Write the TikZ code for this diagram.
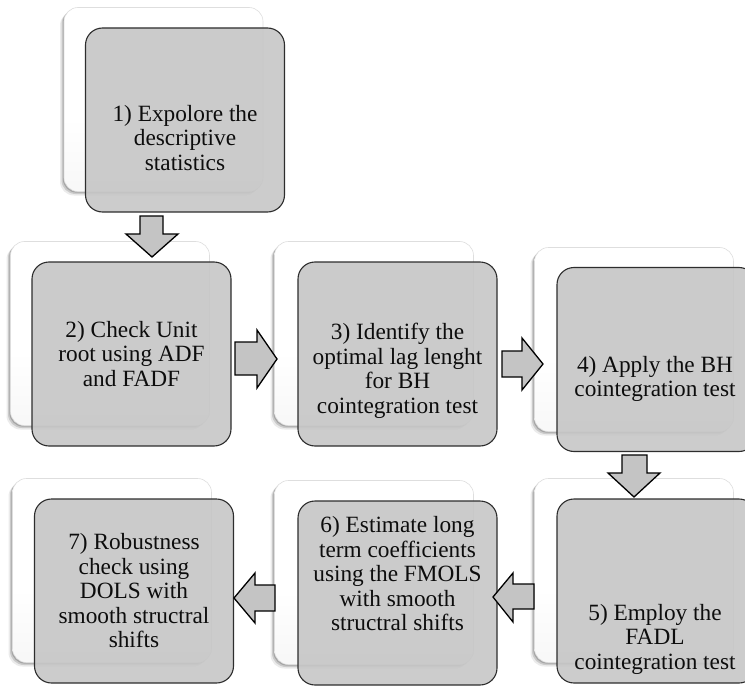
\documentclass[tikz,border=0pt]{standalone}
\usepackage{fontspec}
\setmainfont{Liberation Serif}
\usetikzlibrary{shadows}
\definecolor{frontgray}{RGB}{198,198,198}
\definecolor{arrowgray}{RGB}{196,196,196}
\definecolor{edgegray}{RGB}{45,45,45}
\pgfdeclareverticalshading{cardshade}{100bp}{color(0bp)=(black!11); color(25bp)=(black!3); color(45bp)=(white); color(100bp)=(white)}
\tikzset{
  backcard/.style={draw=black!13, line width=0.6pt, rounded corners=14pt,
    minimum width=199pt, minimum height=184pt, inner sep=0pt,
    shade, shading=cardshade,
    drop shadow={shadow xshift=-1.2pt, shadow yshift=-1.2pt, opacity=0.18, fill=black},
    drop shadow={shadow xshift=-2.5pt, shadow yshift=-2.5pt, opacity=0.14, fill=black},
    drop shadow={shadow xshift=-4pt, shadow yshift=-4pt, opacity=0.08, fill=black}},
  frontcard/.style={draw=edgegray, line width=1.1pt, rounded corners=17pt,
    minimum width=199pt, minimum height=184pt, inner sep=0pt,
    fill=frontgray, fill opacity=0.9},
  steptext/.style={align=center, font=\fontsize{23.3}{24.5}\selectfont, text=black!95, inner sep=0pt},
  blockarrow/.style={draw=black, line width=1.3pt, fill=arrowgray, line join=miter}
}
\begin{document}
\begin{tikzpicture}[x=1pt,y=-1pt]
\useasboundingbox (0,0) rectangle (745,693);
\clip (0,0) rectangle (745,693);
% box 1
\node[backcard] (b1) at (163.5,99.5) {};
\node[frontcard] (f1) at (185,120) {};
\node[steptext] (t1) at (185,138) {1) Expolore the\\descriptive\\statistics};
% box 2
\node[backcard] (b2) at (110,333.5) {};
\node[frontcard] (f2) at (131.5,354) {};
\node[steptext] (t2) at (131.5,354) {2) Check Unit\\root using ADF\\and FADF};
% box 3
\node[backcard] (b3) at (374,333.5) {};
\node[frontcard] (f3) at (397.5,354) {};
\node[steptext] (t3) at (397.5,371) {3) Identify the\\optimal lag lenght\\for BH\\cointegration test};
% box 4
\node[backcard] (b4) at (634,339.5) {};
\node[frontcard] (f4) at (656.5,359.5) {};
\node[steptext] (t4) at (655,379) {4) Apply the BH\\cointegration test};
% box 5
\node[backcard] (b5) at (634,570.5) {};
\node[frontcard] (f5) at (656.5,591) {};
\node[steptext] (t5) at (655,639) {5) Employ the\\FADL\\cointegration test};
% box 6
\node[backcard] (b6) at (374,572.5) {};
\node[frontcard] (f6) at (397.5,593) {};
\node[steptext] (t6) at (397.5,574) {6) Estimate long\\term coefficients\\using the FMOLS\\with smooth\\structral shifts};
% box 7
\node[backcard] (b7) at (112,570.5) {};
\node[frontcard] (f7) at (134,591) {};
\node[steptext] (t7) at (134,591) {7) Robustness\\check using\\DOLS with\\smooth structral\\shifts};
% arrows
\draw[blockarrow] (140,216) -- (163,216) -- (163,234) -- (178,234) -- (152,257) -- (126,234) -- (140,234) -- cycle;
\draw[blockarrow] (235,342) -- (257,342) -- (257,330) -- (277,359) -- (257,388) -- (257,375) -- (235,375) -- cycle;
\draw[blockarrow] (502,351) -- (522,351) -- (522,338) -- (543,364) -- (522,390) -- (522,377) -- (502,377) -- cycle;
\draw[blockarrow] (622,455) -- (647,455) -- (647,473) -- (660,473) -- (634,497) -- (608,473) -- (622,473) -- cycle;
\draw[blockarrow] (534,584) -- (513,584) -- (513,573) -- (493,597) -- (513,622) -- (513,609) -- (534,609) -- cycle;
\draw[blockarrow] (275,585) -- (255,585) -- (255,573) -- (234,598) -- (255,623) -- (255,611) -- (275,611) -- cycle;
\end{tikzpicture}
\end{document}
